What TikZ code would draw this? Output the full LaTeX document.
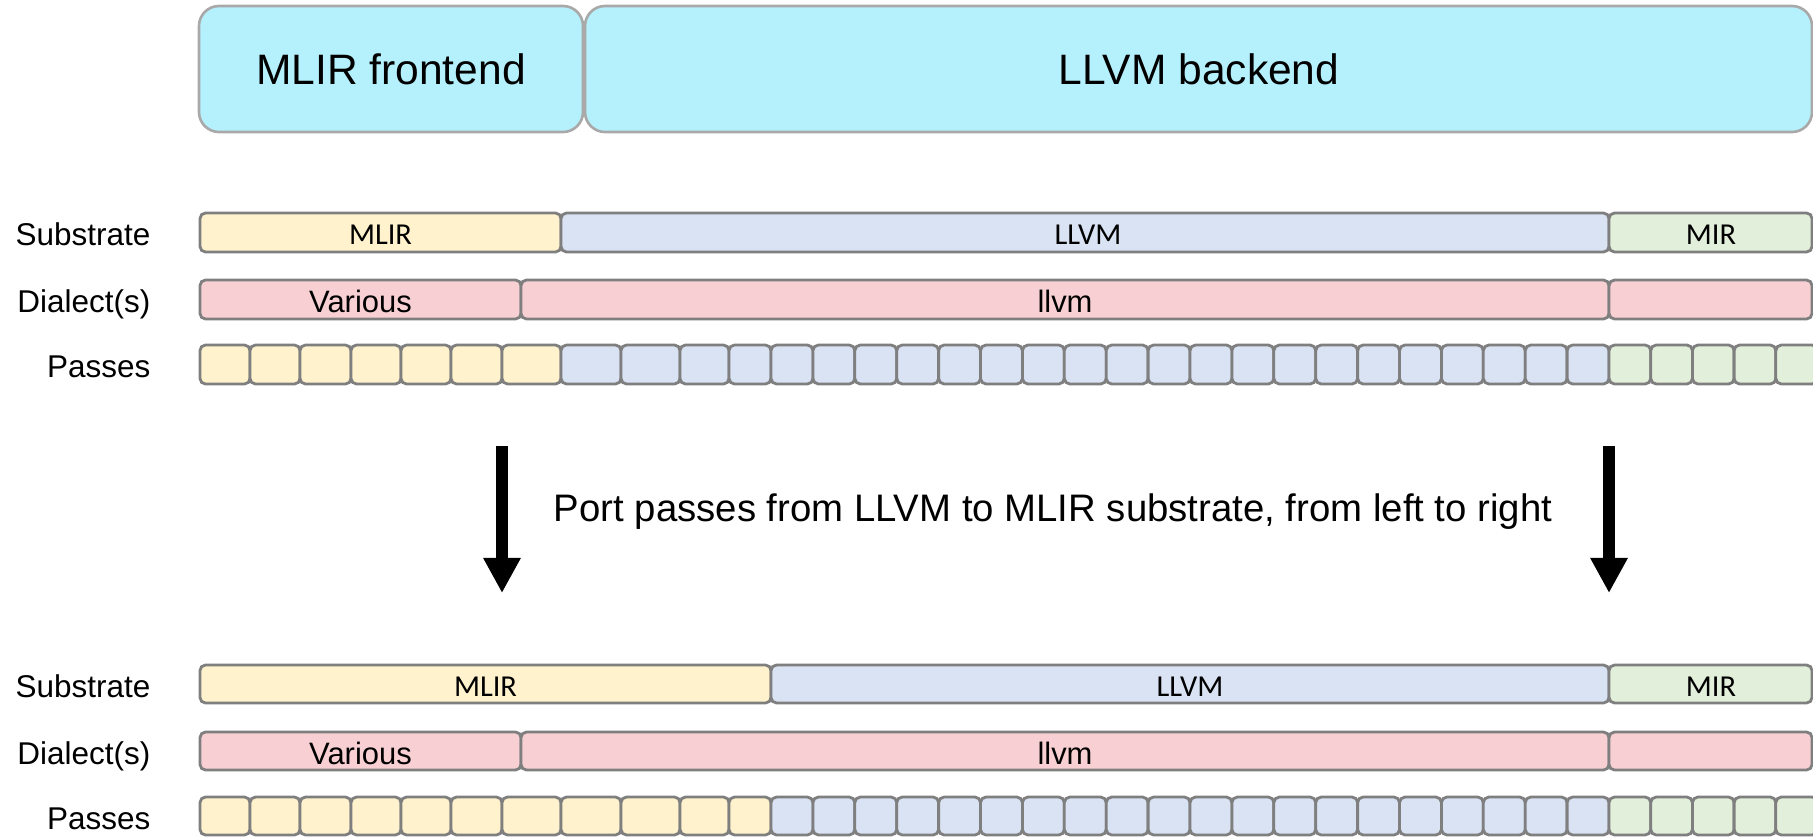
\documentclass[tikz,border=0pt]{standalone}
\usepackage{fontspec}
\setmainfont{Liberation Sans}
\newfontfamily\calibri{Carlito}
\usetikzlibrary{arrows.meta}

\definecolor{phasefill}{HTML}{B5F1FD}
\definecolor{phaseline}{HTML}{A9A9A9}
\definecolor{mlirfill}{HTML}{FFF2CC}
\definecolor{llvmfill}{HTML}{DAE3F3}
\definecolor{mirfill}{HTML}{E2EFDA}
\definecolor{dialfill}{HTML}{F8D0D3}
\definecolor{barline}{HTML}{7F7F7F}

\tikzset{
    phase/.style={draw=phaseline, line width=0.75pt, fill=phasefill, rounded corners=0.2cm},
    bar/.style={draw=barline, line width=0.8pt, rounded corners=0.055cm},
    phasetext/.style={font=\fontsize{12.1}{14}\selectfont},
    rowlabel/.style={anchor=east, inner sep=0pt, text height=1.6ex, text depth=0.15ex,
        font=\fontsize{8.95}{10}\selectfont},
    subtext/.style={inner sep=0pt, text height=1.6ex, text depth=0.3ex,
        font=\calibri\fontsize{8.65}{10}\selectfont},
    dialtext/.style={inner sep=0pt, text height=1.6ex, text depth=0.15ex,
        font=\fontsize{8.8}{10}\selectfont},
    bigarrow/.style={line width=0.12cm, -{Triangle[width=0.35cm, length=0.35cm]}}
}

\begin{document}
\begin{tikzpicture}[x=0.01cm, y=-0.01cm]
    \useasboundingbox (0, 0) rectangle (1813, 836);
    \clip (0, 0) rectangle (1813, 836);

    % compilation phases
    \draw[phase] (199, 6) rectangle (583, 132);
    \node[phasetext] (front) at (391, 69) {MLIR frontend};
    \draw[phase] (585, 6) rectangle (1812, 132);
    \node[phasetext] (back) at (1199, 69) {LLVM backend};

    % before: substrate
    \node[rowlabel] (subA) at (151, 232.5) {Substrate};
    \draw[bar, fill=mlirfill] (200, 213) rectangle (561, 252);
    \node[subtext] (subAmlir) at (380.5, 232.5) {MLIR};
    \draw[bar, fill=llvmfill] (561, 213) rectangle (1609, 252);
    \node[subtext] (subAllvm) at (1088, 232.5) {LLVM};
    \draw[bar, fill=mirfill] (1609, 213) rectangle (1812, 252);
    \node[subtext] (subAmir) at (1711, 232.5) {MIR};

    % before: dialects
    \node[rowlabel] (dialA) at (151, 299.5) {Dialect(s)};
    \draw[bar, fill=dialfill] (200, 280) rectangle (521, 319);
    \node[dialtext] (dialAvar) at (360.5, 299.5) {Various};
    \draw[bar, fill=dialfill] (521, 280) rectangle (1609, 319);
    \node[dialtext] (dialAllvm) at (1065, 299.5) {llvm};
    \draw[bar, fill=dialfill] (1609, 280) rectangle (1812, 319);

    % before: passes
    \node[rowlabel] (passA) at (151, 364.5) {Passes};
    \foreach \a/\b in {200/250, 250/300, 300/351, 351/401, 401/451, 451/502, 502/561}
        \draw[bar, fill=mlirfill] (\a, 345) rectangle (\b, 384);
    \foreach \a/\b in {561/621, 621/680, 680/729, 729/771}
        \draw[bar, fill=llvmfill] (\a, 345) rectangle (\b, 384);
    \foreach \i in {0,...,19}
        \draw[bar, fill=llvmfill] (771+41.9*\i, 345) rectangle (812.9+41.9*\i, 384);
    \foreach \i in {0,...,4}
        \draw[bar, fill=mirfill] (1609+41.7*\i, 345) rectangle (1650.7+41.7*\i, 384);

    % porting arrows
    \coordinate (arrLtop) at (502, 446);
    \coordinate (arrLtip) at (502, 593);
    \coordinate (arrRtop) at (1609, 446);
    \coordinate (arrRtip) at (1609, 593);
    \draw[bigarrow] (arrLtop) -- (arrLtip);
    \draw[bigarrow] (arrRtop) -- (arrRtip);
    \node[font=\fontsize{10.9}{13}\selectfont] (port) at (1053, 512)
        {Port passes from LLVM to MLIR substrate, from left to right};

    % after: substrate
    \node[rowlabel] (subB) at (151, 684) {Substrate};
    \draw[bar, fill=mlirfill] (200, 665) rectangle (771, 703);
    \node[subtext] (subBmlir) at (485.5, 684) {MLIR};
    \draw[bar, fill=llvmfill] (771, 665) rectangle (1609, 703);
    \node[subtext] (subBllvm) at (1190, 684) {LLVM};
    \draw[bar, fill=mirfill] (1609, 665) rectangle (1812, 703);
    \node[subtext] (subBmir) at (1711, 684) {MIR};

    % after: dialects
    \node[rowlabel] (dialB) at (151, 751) {Dialect(s)};
    \draw[bar, fill=dialfill] (200, 732) rectangle (521, 770);
    \node[dialtext] (dialBvar) at (360.5, 751) {Various};
    \draw[bar, fill=dialfill] (521, 732) rectangle (1609, 770);
    \node[dialtext] (dialBllvm) at (1065, 751) {llvm};
    \draw[bar, fill=dialfill] (1609, 732) rectangle (1812, 770);

    % after: passes
    \node[rowlabel] (passB) at (151, 816) {Passes};
    \foreach \a/\b in {200/250, 250/300, 300/351, 351/401, 401/451, 451/502, 502/561,
                       561/621, 621/680, 680/729, 729/771}
        \draw[bar, fill=mlirfill] (\a, 797) rectangle (\b, 835);
    \foreach \i in {0,...,19}
        \draw[bar, fill=llvmfill] (771+41.9*\i, 797) rectangle (812.9+41.9*\i, 835);
    \foreach \i in {0,...,4}
        \draw[bar, fill=mirfill] (1609+41.7*\i, 797) rectangle (1650.7+41.7*\i, 835);
\end{tikzpicture}
\end{document}
